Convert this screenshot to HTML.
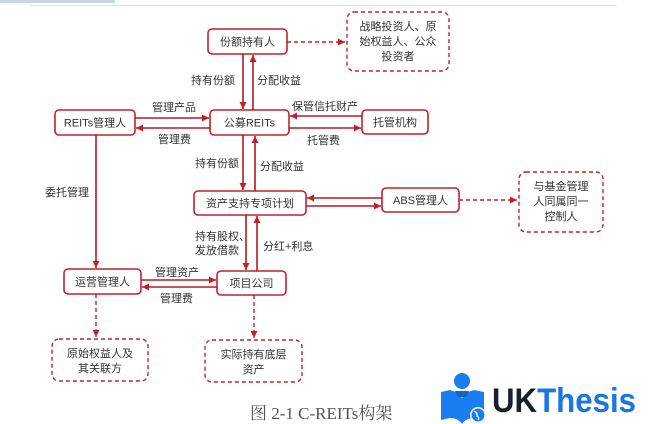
<!DOCTYPE html>
<html><head><meta charset="utf-8"><style>
html,body{margin:0;padding:0;background:#fff;}
svg{display:block;}
.t{font-family:"Liberation Sans","Noto Sans CJK SC",sans-serif;font-size:11px;fill:#333;}
.b{fill:#fff;stroke:#c0222b;stroke-width:1.6;}
.d{fill:#fff;stroke:#c0222b;stroke-width:1.4;stroke-dasharray:4,3;}
.l{stroke:#b81820;stroke-width:1.6;fill:none;}
.dl{stroke:#c0222b;stroke-width:1.4;fill:none;stroke-dasharray:4,3;}
</style></head><body>
<svg width="649" height="424" viewBox="0 0 649 424" xmlns="http://www.w3.org/2000/svg">
<defs>
<marker id="a" markerWidth="8" markerHeight="8" refX="7" refY="4" orient="auto" markerUnits="userSpaceOnUse"><path d="M0,0.5 L7,4 L0,7.5 z" fill="#c0222b"/></marker>
</defs>
<rect x="0" y="0" width="115" height="3" fill="#c9d6e3"/>
<line x1="30" y1="5.5" x2="617" y2="5.5" stroke="#cdeedd" stroke-width="1"/>

<rect class="b" x="208" y="29" width="79" height="25" rx="4"/>
<text class="t" x="247.5" y="45.5" text-anchor="middle">份额持有人</text>
<rect class="d" x="347" y="12" width="102" height="59" rx="7"/>
<text class="t" x="398" y="30" text-anchor="middle">战略投资人、原</text>
<text class="t" x="398" y="45" text-anchor="middle">始权益人、公众</text>
<text class="t" x="398" y="60" text-anchor="middle">投资者</text>

<rect class="b" x="55" y="110" width="80" height="25" rx="4"/>
<text class="t" x="95" y="126.5" text-anchor="middle">REITs管理人</text>
<rect class="b" x="210" y="110" width="79" height="25" rx="4"/>
<text class="t" x="249.5" y="126.5" text-anchor="middle">公募REITs</text>
<rect class="b" x="362" y="110" width="66" height="24" rx="4"/>
<text class="t" x="395" y="126" text-anchor="middle">托管机构</text>

<rect class="b" x="194" y="191" width="112" height="24" rx="4"/>
<text class="t" x="250" y="207" text-anchor="middle">资产支持专项计划</text>
<rect class="b" x="382" y="188" width="77" height="24" rx="4"/>
<text class="t" x="420.5" y="204" text-anchor="middle">ABS管理人</text>
<rect class="d" x="519" y="172" width="84" height="60" rx="7"/>
<text class="t" x="561" y="190" text-anchor="middle">与基金管理</text>
<text class="t" x="561" y="205" text-anchor="middle">人同属同一</text>
<text class="t" x="561" y="220" text-anchor="middle">控制人</text>

<rect class="b" x="64" y="269" width="77" height="25" rx="4"/>
<text class="t" x="102.5" y="285.5" text-anchor="middle">运营管理人</text>
<rect class="b" x="217" y="271" width="69" height="24" rx="4"/>
<text class="t" x="251.5" y="287" text-anchor="middle">项目公司</text>
<rect class="d" x="52" y="339" width="96" height="42" rx="7"/>
<text class="t" x="100" y="357" text-anchor="middle">原始权益人及</text>
<text class="t" x="100" y="372" text-anchor="middle">其关联方</text>
<rect class="d" x="205" y="340" width="97" height="42" rx="7"/>
<text class="t" x="253.5" y="358" text-anchor="middle">实际持有底层</text>
<text class="t" x="253.5" y="373" text-anchor="middle">资产</text>

<line class="dl" x1="287" y1="42" x2="345" y2="42" marker-end="url(#a)"/>
<line class="l" x1="243" y1="54" x2="243" y2="109" marker-end="url(#a)"/>
<line class="l" x1="253" y1="110" x2="253" y2="55" marker-end="url(#a)"/>
<text class="t" x="191" y="84">持有份额</text>
<text class="t" x="257" y="84">分配收益</text>

<line class="l" x1="135" y1="118" x2="209" y2="118" marker-end="url(#a)"/>
<line class="l" x1="210" y1="128" x2="136" y2="128" marker-end="url(#a)"/>
<text class="t" x="152" y="111">管理产品</text>
<text class="t" x="158" y="143">管理费</text>

<line class="l" x1="362" y1="116" x2="290" y2="116" marker-end="url(#a)"/>
<line class="l" x1="289" y1="128" x2="361" y2="128" marker-end="url(#a)"/>
<text class="t" x="292" y="110">保管信托财产</text>
<text class="t" x="307" y="144">托管费</text>

<line class="l" x1="243" y1="135" x2="243" y2="190" marker-end="url(#a)"/>
<line class="l" x1="255" y1="191" x2="255" y2="136" marker-end="url(#a)"/>
<text class="t" x="195" y="167">持有份额</text>
<text class="t" x="260" y="170">分配收益</text>

<line class="l" x1="382" y1="198" x2="307" y2="198" marker-end="url(#a)"/>
<line class="l" x1="306" y1="206" x2="381" y2="206" marker-end="url(#a)"/>
<line class="dl" x1="459" y1="200" x2="517" y2="200" marker-end="url(#a)"/>

<line class="l" x1="96" y1="135" x2="96" y2="268" marker-end="url(#a)"/>
<text class="t" x="45" y="196">委托管理</text>

<line class="l" x1="246" y1="215" x2="246" y2="270" marker-end="url(#a)"/>
<line class="l" x1="257" y1="271" x2="257" y2="216" marker-end="url(#a)"/>
<text class="t" x="195" y="240">持有股权、</text>
<text class="t" x="195" y="254">发放借款</text>
<text class="t" x="263" y="250">分红+利息</text>

<line class="l" x1="141" y1="280" x2="216" y2="280" marker-end="url(#a)"/>
<line class="l" x1="217" y1="287" x2="142" y2="287" marker-end="url(#a)"/>
<text class="t" x="155" y="276">管理资产</text>
<text class="t" x="160" y="302">管理费</text>

<line class="dl" x1="96" y1="294" x2="96" y2="337" marker-end="url(#a)"/>
<line class="dl" x1="254" y1="295" x2="254" y2="338" marker-end="url(#a)"/>

<text x="250" y="419" font-family="Liberation Serif,'Noto Serif CJK SC',serif" font-size="17" fill="#555">图 2-1 C-REITs构架</text>

<g fill="#1a7ef0">
<circle cx="462" cy="381" r="8"/>
<path d="M441,392 L450,390 Q458,392 462,398 Q466,392 474,390 L484,392 L484,420 L474,418 Q466,418 462,424 Q458,418 450,418 L441,420 z"/>
<path d="M455,391 L469,391 L466,397 L458,397 z" fill="#1565c0"/>
</g>
<circle cx="478" cy="415" r="8" fill="#fff"/>
<circle cx="478" cy="415" r="6.5" fill="#1a7ef0"/>
<path d="M474,411 Q478,413 477,416 Q480,418 478,420" stroke="#fff" stroke-width="1.3" fill="none"/>
<text x="492" y="412" font-family="Liberation Sans,sans-serif" font-weight="bold" font-size="34" fill="#17202f" textLength="144" lengthAdjust="spacingAndGlyphs">UK<tspan fill="#1a76e3">Thesis</tspan></text>
</svg>
</body></html>
